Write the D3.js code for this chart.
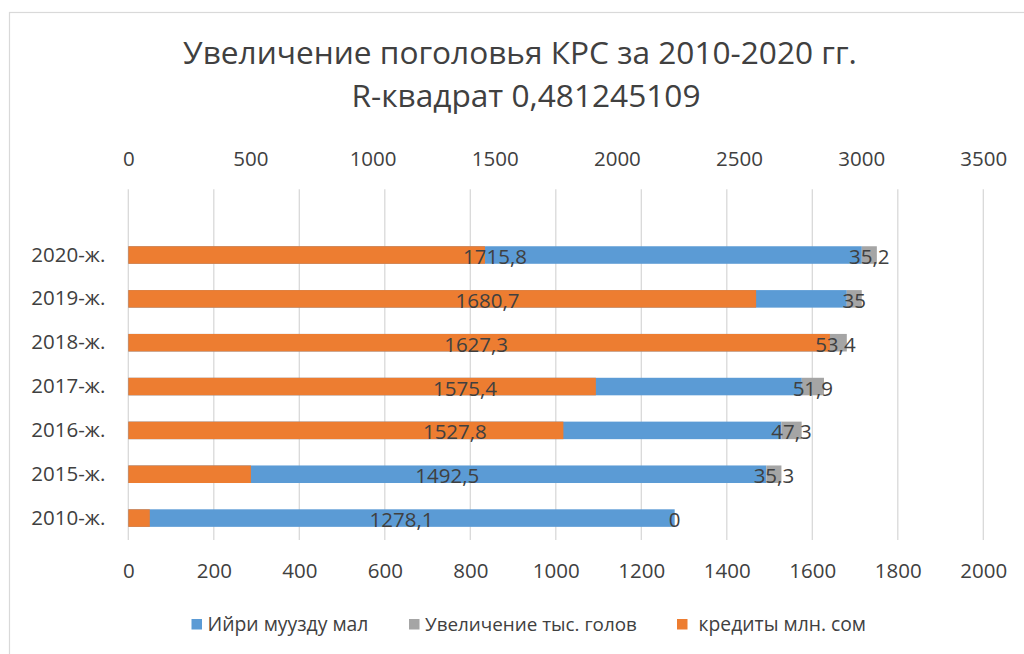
<!DOCTYPE html>
<html><head><meta charset="utf-8">
<script src="https://cdn.jsdelivr.net/npm/d3@7"></script>
<style>html,body{margin:0;padding:0;background:#fff;} svg{display:block;}</style>
</head><body>
<svg id="chart" width="1024" height="654"></svg>
<script>
const categories = ["2010-ж.", "2015-ж.", "2016-ж.", "2017-ж.", "2018-ж.", "2019-ж.", "2020-ж."];
const herd = [1278.1, 1492.5, 1527.8, 1575.4, 1627.3, 1680.7, 1715.8];      // Ийри муузду мал
const increase = [0, 35.3, 47.3, 51.9, 53.4, 35, 35.2];                    // Увеличение тыс. голов
const credits = [88, 502, 1781, 1914, 2872, 2570, 1460];                   // кредиты млн. сом
const bottomTicks = [0, 200, 400, 600, 800, 1000, 1200, 1400, 1600, 1800, 2000];
const topTicks = [0, 500, 1000, 1500, 2000, 2500, 3000, 3500];
const seriesNames = ["Ийри муузду мал", "Увеличение тыс. голов", "кредиты млн. сом"];
const titleLines = ["Увеличение поголовья КРС за 2010-2020 гг.", "R-квадрат 0,481245109"];

const colors = {herd: "#5B9BD5", inc: "#A5A5A5", cred: "#ED7D31"};
const FONT = "Open Sans";
const txt = "#404040";

const svg = d3.select("#chart");
svg.append("rect").attr("x", 9.5).attr("y", 12.5).attr("width", 1100).attr("height", 700)
  .attr("fill", "#fff").attr("stroke", "#D9D9D9").attr("stroke-width", 1.2);

const x = d3.scaleLinear().domain([0, 2000]).range([128.3, 983.3]);
const x2 = d3.scaleLinear().domain([0, 3500]).range([128.3, 983.3]);
const y = d3.scaleBand().domain(categories.slice().reverse()).range([233.1, 540])
  .paddingInner(0.6).paddingOuter(0.3);
const gridTop = 189.3, gridBottom = 540;

function fit(sel, w) {
  const len = sel.node().getComputedTextLength();
  const fs = parseFloat(sel.attr("font-size"));
  sel.attr("font-size", fs * w / len);
  return fs * w / len;
}

// gridlines
svg.append("g").selectAll("line").data(bottomTicks).join("line")
  .attr("x1", d => x(d)).attr("x2", d => x(d)).attr("y1", gridTop).attr("y2", gridBottom)
  .attr("stroke", "#D9D9D9").attr("stroke-width", 1.3);

// bottom axis
const bAxis = svg.append("g").attr("transform", `translate(0,${gridBottom})`)
  .call(d3.axisBottom(x).tickValues(bottomTicks).tickFormat(d3.format("d")).tickSize(0).tickPadding(23));
bAxis.select(".domain").remove();
bAxis.selectAll("text").attr("font-family", FONT).attr("font-size", 20.5).attr("fill", txt);

// top axis
const tAxis = svg.append("g").attr("transform", `translate(0,${gridTop})`)
  .call(d3.axisTop(x2).tickValues(topTicks).tickFormat(d3.format("d")).tickSize(0).tickPadding(23));
tAxis.select(".domain").remove();
tAxis.selectAll("text").attr("font-family", FONT).attr("font-size", 20.5).attr("fill", txt);

// left axis
const lAxis = svg.append("g").attr("transform", `translate(128.3,0)`)
  .call(d3.axisLeft(y).tickSize(0).tickPadding(23));
lAxis.select(".domain").remove();
lAxis.selectAll("text").attr("font-family", FONT).attr("font-size", 20.5).attr("fill", txt);

const rows = categories.map((c, i) => ({c, h: herd[i], g: increase[i], k: credits[i]}));

// blue bars
svg.append("g").selectAll("rect").data(rows).join("rect")
  .attr("x", x(0)).attr("y", d => y(d.c)).attr("height", y.bandwidth())
  .attr("width", d => x(d.h) - x(0)).attr("fill", colors.herd);
// gray bars
svg.append("g").selectAll("rect").data(rows).join("rect")
  .attr("x", d => x(d.h)).attr("y", d => y(d.c)).attr("height", y.bandwidth())
  .attr("width", d => x(d.h + d.g) - x(d.h)).attr("fill", colors.inc);
// orange bars (secondary axis)
svg.append("g").selectAll("rect").data(rows).join("rect")
  .attr("x", x2(0)).attr("y", d => y(d.c)).attr("height", y.bandwidth())
  .attr("width", d => x2(d.k) - x2(0)).attr("fill", colors.cred);

const fmt = v => String(v).replace(".", ",");
// labels
const lab = svg.append("g").attr("font-family", FONT).attr("font-size", 20.5).attr("fill", "#404040")
  .attr("text-anchor", "middle").attr("dominant-baseline", "central");
lab.selectAll("text.h").data(rows).join("text").attr("class", "h")
  .attr("x", d => (x(0) + x(d.h)) / 2).attr("y", d => y(d.c) + y.bandwidth() / 2 + 1)
  .text(d => fmt(d.h));
lab.selectAll("text.g").data(rows).join("text").attr("class", "g")
  .attr("x", d => (x(d.h) + x(d.h + d.g)) / 2).attr("y", d => y(d.c) + y.bandwidth() / 2 + 1)
  .text(d => fmt(d.g));

// title
const t1 = svg.append("text").attr("x", 520).attr("y", 64).attr("text-anchor", "middle")
  .attr("font-family", FONT).attr("font-size", 30).attr("fill", txt).text(titleLines[0]);
const tfs = fit(t1, 674);
svg.append("text").attr("x", 526).attr("y", 107).attr("text-anchor", "middle")
  .attr("font-family", FONT).attr("font-size", tfs).attr("fill", txt).text(titleLines[1]);

// legend
const legX = [191.5, 409, 677];
const legTX = [207.5, 425, 698.6];
const legW = [161, 212, 167.5];
const legC = [colors.herd, colors.inc, colors.cred];
seriesNames.forEach((n, i) => {
  svg.append("rect").attr("x", legX[i]).attr("y", 619).attr("width", 10.5).attr("height", 10.5).attr("fill", legC[i]);
  const t = svg.append("text").attr("x", legTX[i]).attr("y", 631).attr("font-family", FONT)
    .attr("font-size", 16).attr("fill", txt).text(n);
  fit(t, legW[i]);
});
</script>
</body></html>
